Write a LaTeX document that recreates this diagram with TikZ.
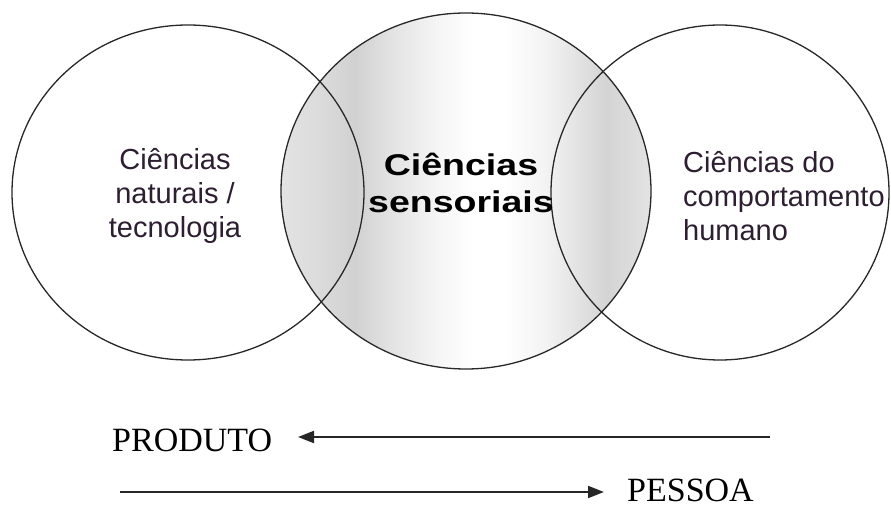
\documentclass[tikz,border=0pt]{standalone}
\usepackage{fontspec}
\setmainfont{Liberation Serif}
\newfontfamily\arialf{Liberation Sans}
\newfontfamily\arialbw[FakeStretch=1.25]{Liberation Sans Bold}
\newfontfamily\timesf{Liberation Serif}
\usetikzlibrary{arrows.meta}
\definecolor{txt}{RGB}{45,30,50}
\definecolor{edge}{RGB}{40,40,40}
\pgfdeclarehorizontalshading{midshade}{100bp}{%
  rgb(0bp)=(0.89,0.89,0.89);
  rgb(25bp)=(0.89,0.89,0.89);
  rgb(30bp)=(0.86,0.86,0.86);
  rgb(35bp)=(0.82,0.82,0.82);
  rgb(40bp)=(0.89,0.89,0.89);
  rgb(46bp)=(0.96,0.96,0.96);
  rgb(51bp)=(1,1,1);
  rgb(55bp)=(1,1,1);
  rgb(61bp)=(0.95,0.95,0.95);
  rgb(65bp)=(0.89,0.89,0.89);
  rgb(69bp)=(0.83,0.83,0.83);
  rgb(75bp)=(0.89,0.89,0.89);
  rgb(100bp)=(0.89,0.89,0.89)}
\tikzset{
  ring/.style={draw=edge, line width=1.3pt},
  sidelabel/.style={font=\arialf\fontsize{29}{34}\selectfont, text=txt, inner sep=0pt},
  midlabel/.style={font=\arialbw\fontsize{30}{37}\selectfont, text=black, inner sep=0pt, align=center},
  dirlabel/.style={font=\timesf\fontsize{34}{38}\selectfont, text=black, inner sep=0pt, anchor=west},
  arr/.style={line width=2pt, draw=black!85, -{Triangle[length=16pt,width=12pt]}}
}
\begin{document}
\begin{tikzpicture}[x=1pt,y=-1pt]
\useasboundingbox (0,0) rectangle (891,510);
\fill[white] (0,0) rectangle (891,510);
% middle shaded ellipse
\shade[shading=midshade] (466,191) ellipse [x radius=185, y radius=178];
% outlines
\draw[ring] (188,192.5) ellipse [x radius=176, y radius=167.5];
\draw[ring] (720,192.5) ellipse [x radius=169, y radius=167.5];
\draw[ring] (466,191) ellipse [x radius=185, y radius=178];
% labels
\node[sidelabel, align=center] (nat) at (175,196) {Ciências\\naturais /\\tecnologia};
\node[midlabel] (sens) at (461,183) {Ciências\\sensoriais};
\node[sidelabel, align=left, anchor=west] (comp) at (683,196) {Ciências do\\comportamento\\humano};
% bottom
\node[dirlabel] (prod) at (112,440) {PRODUTO};
\node[dirlabel] (pess) at (627,490) {PESSOA};
\coordinate (a1s) at (770,437);
\coordinate (a1e) at (298,437);
\coordinate (a2s) at (120,492);
\coordinate (a2e) at (604,492);
\draw[arr] (a1s) -- (a1e);
\draw[arr] (a2s) -- (a2e);
\end{tikzpicture}
\end{document}
